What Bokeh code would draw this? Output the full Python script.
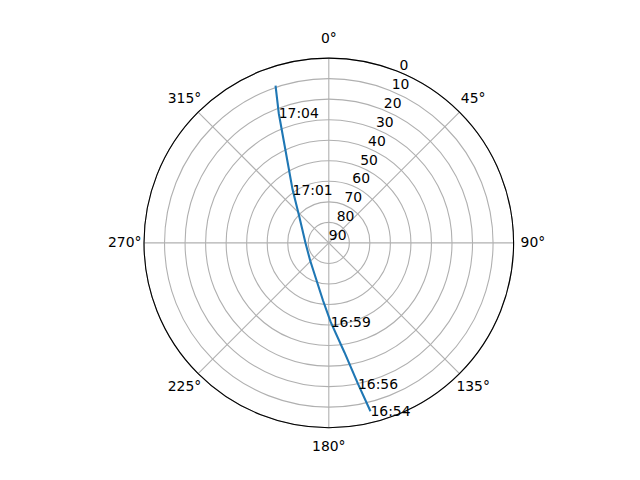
import numpy as np
from bokeh.plotting import figure
from bokeh.models import Range1d
from bokeh.core.properties import value
from bokeh.embed import file_html
from bokeh.resources import INLINE

# Satellite pass (azimuth clockwise from north, elevation in degrees)
azimuth = [166.1, 168.3, 171.85, 178.6, 185.75, 226.6, 270.0, 312.6, 325.8, 334.9, 338.9, 341.3]
elevation = [5.55, 19.9, 36.1, 51.4, 61.8, 77.5, 78.65, 70.3, 58.6, 40.3, 22.3, 9.1]
times = ["16:54", "16:56", "", "16:59", "", "", "", "", "17:01", "", "17:04", ""]

theta_ticks = [0, 45, 90, 135, 180, 225, 270, 315]
theta_labels = ["0°", "45°", "90°", "135°", "180°", "225°", "270°", "315°"]
r_ticks = [0, 10, 20, 30, 40, 50, 60, 70, 80, 90]
r_labels = ["0", "10", "20", "30", "40", "50", "60", "70", "80", "90"]

FONT = value("DejaVu Sans")
FS = "13.9px"
W, H = 624, 464
S = 184.8 / 90.0          # pixels per unit of radius
CX, CY = 328.3, 242.4     # centre in figure pixels (from top-left)


def to_xy(az, el):
    az = np.radians(np.asarray(az, dtype=float))
    r = 90.0 - np.asarray(el, dtype=float)
    return r * np.sin(az), r * np.cos(az)


p = figure(width=W, height=H, output_backend="svg", toolbar_location=None,
           x_range=Range1d(-CX / S, (W - CX) / S),
           y_range=Range1d(-(H - CY) / S, CY / S),
           min_border=0, min_border_left=0, min_border_right=0,
           min_border_top=0, min_border_bottom=0)
p.axis.visible = False
p.grid.visible = False
p.outline_line_color = None
p.background_fill_color = "white"
p.border_fill_color = "white"

# radial grid circles
grid_r = [90.0 - e for e in r_ticks if 90.0 - e > 0]
p.circle(x=[0] * len(grid_r), y=[0] * len(grid_r), radius=grid_r,
         fill_color=None, line_color="#b0b0b0", line_width=1.1)
# angular grid lines
xs, ys = [], []
for t in theta_ticks:
    a = np.radians(t)
    xs.append([0, 90 * np.sin(a)])
    ys.append([0, 90 * np.cos(a)])
p.multi_line(xs=xs, ys=ys, line_color="#b0b0b0", line_width=1.1)

# outer spine
p.circle(x=[0], y=[0], radius=[90], fill_color=None, line_color="black", line_width=1.1)

# track
tx, ty = to_xy(azimuth, elevation)
p.line(x=tx, y=ty, line_color="#1f77b4", line_width=2.1)

# time labels
lab_idx = [i for i, t in enumerate(times) if t]
p.text(x=[tx[i] for i in lab_idx], y=[ty[i] for i in lab_idx],
       text=[times[i] for i in lab_idx], text_font=FONT, text_font_size=FS,
       text_color="black", text_align="left", text_baseline="alphabetic")

# theta tick labels
a = np.radians(theta_ticks)
rt = 99.4
p.text(x=rt * np.sin(a), y=rt * np.cos(a), text=theta_labels, text_font=FONT,
       text_font_size=FS, text_color="black", text_align="center",
       text_baseline="middle", y_offset=-1)

# radial tick labels along 22.5 degrees
ra = np.radians(22.5)
rr = np.array([90.0 - v for v in r_ticks])
p.text(x=rr * np.sin(ra), y=rr * np.cos(ra), text=r_labels, text_font=FONT,
       text_font_size=FS, text_color="black", text_align="left",
       text_baseline="bottom", y_offset=-2.5)

open("out.html", "w").write(file_html(p, INLINE))
